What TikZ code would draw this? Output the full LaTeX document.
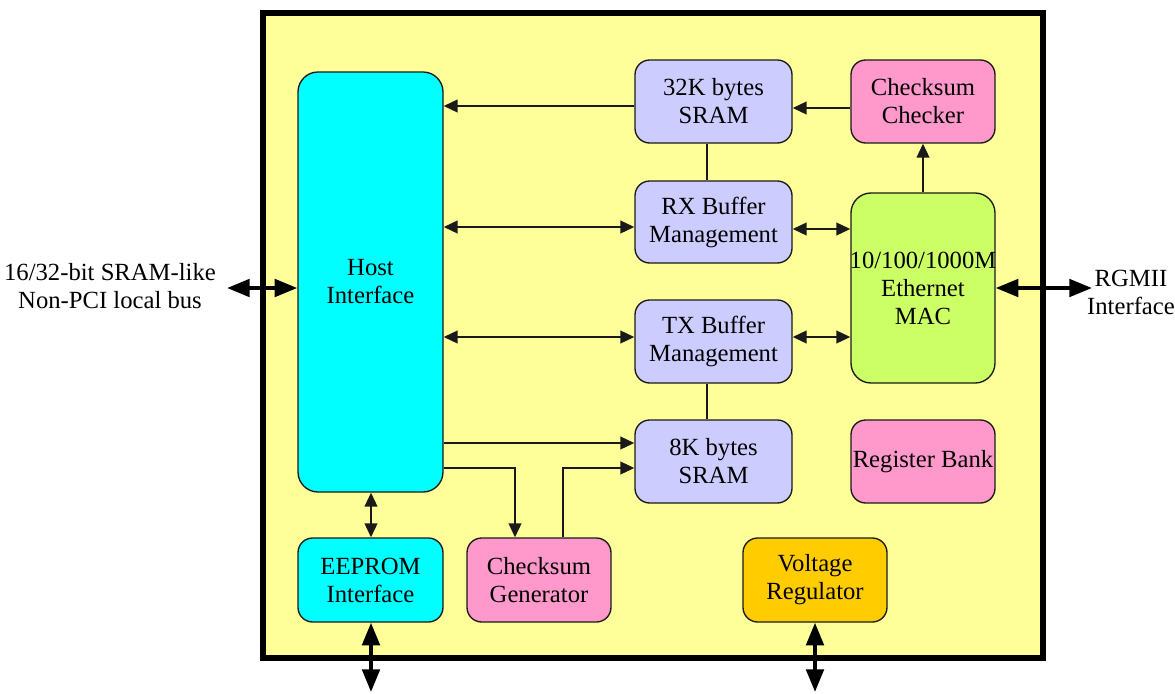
\documentclass[tikz,border=0pt]{standalone}
\usepackage{fontspec}
\setmainfont{Liberation Serif}
\usetikzlibrary{arrows.meta}
\definecolor{bg}{HTML}{FFFF99}
\definecolor{cyanbox}{HTML}{00FFFF}
\definecolor{lav}{HTML}{CCCCFF}
\definecolor{pinkbox}{HTML}{FF99CC}
\definecolor{greenbox}{HTML}{CCFF66}
\definecolor{orangebox}{HTML}{FFCC00}
\definecolor{edge}{HTML}{1A1A1A}
\begin{document}
\begin{tikzpicture}[x=0.75pt,y=-0.75pt,
  blk/.style={draw=edge, line width=1pt, rounded corners=11pt, align=center,
    font=\fontsize{18.5}{21}\selectfont, inner sep=0pt},
  thinln/.style={line width=1.5pt, draw=edge},
  >={Triangle[length=10.5pt,width=9.5pt]},
  bus/.style={line width=3pt, draw=black,
    {Triangle[length=17pt,width=13pt]}-{Triangle[length=17pt,width=13pt]}},
  lbl/.style={align=center, font=\fontsize{18.5}{21}\selectfont, inner sep=0pt}
]
\useasboundingbox (0,0) rectangle (1175,693);
% chip frame
\draw[line width=4.5pt, fill=bg] (263,12.5) rectangle (1043,658);

% blocks
\node[blk, fill=cyanbox, rounded corners=15pt, minimum width=108.75pt, minimum height=315pt] (host) at (370.5,282) {Host\\Interface};
\node[blk, fill=lav, minimum width=117.75pt, minimum height=62.25pt] (sram32) at (713.5,101.5) {32K bytes\\SRAM};
\node[blk, fill=pinkbox, minimum width=108pt, minimum height=62.25pt] (checker) at (923,101.5) {Checksum\\Checker};
\node[blk, fill=lav, minimum width=117.75pt, minimum height=61.5pt] (rx) at (713.5,222) {RX Buffer\\Management};
\node[blk, fill=greenbox, rounded corners=15pt, text width=108pt, minimum width=108pt, minimum height=142.5pt] (mac) at (923,288) {\hbox to 108pt{\hss 10/100/1000M\hss}\\Ethernet\\MAC};
\node[blk, fill=lav, minimum width=117.75pt, minimum height=62.25pt] (tx) at (713.5,341.5) {TX Buffer\\Management};
\node[blk, fill=lav, minimum width=117.75pt, minimum height=62.25pt] (sram8) at (713.5,461.5) {8K bytes\\SRAM};
\node[blk, fill=pinkbox, minimum width=108pt, minimum height=62.25pt] (reg) at (923,461.5) {Register Bank};
\node[blk, fill=cyanbox, minimum width=108.75pt, minimum height=63pt] (eeprom) at (370.5,580) {EEPROM\\Interface};
\node[blk, fill=pinkbox, minimum width=108pt, minimum height=63pt] (gen) at (539,580) {Checksum\\Generator};
\node[blk, fill=orangebox, minimum width=108pt, minimum height=63pt] (volt) at (815,580) {Voltage\\Regulator};

% outside labels
\node[lbl] (buslbl) at (110,286) {16/32-bit SRAM-like\\Non-PCI local bus};
\node[lbl] (rgmii) at (1131,292) {RGMII\\Interface};

% internal connectors
\draw[thinln,->] (sram32.west |- 0,106) -- (host.east |- 0,106);
\draw[thinln,->] (checker.west |- 0,108) -- (sram32.east |- 0,108);
\draw[thinln] (sram32.south -| 707,0) -- (rx.north -| 707,0);
\draw[thinln,<->] (host.east |- 0,227) -- (rx.west |- 0,227);
\draw[thinln,<->] (rx.east |- 0,229) -- (mac.west |- 0,229);
\draw[thinln,->] (mac.north) -- (checker.south);
\draw[thinln,<->] (host.east |- 0,337) -- (tx.west |- 0,337);
\draw[thinln,<->] (tx.east |- 0,337) -- (mac.west |- 0,337);
\draw[thinln] (tx.south -| 707,0) -- (sram8.north -| 707,0);
\draw[thinln,->] (host.east |- 0,443) -- (sram8.west |- 0,443);
\draw[thinln,->] (host.east |- 0,468) -| (gen.north -| 515,0);
\draw[thinln,->] (gen.north -| 563,0) |- (sram8.west |- 0,468);
\draw[thinln,<->] (host.south -| 371,0) -- (eeprom.north -| 371,0);

% external buses
\coordinate (busL) at (227,288);
\draw[bus] (busL) -- (host.west |- busL);
\coordinate (busR) at (1092,288);
\draw[bus] (mac.east |- busR) -- (busR);
\coordinate (eeD) at (371,692);
\draw[bus] (eeprom.south -| eeD) -- (eeD);
\coordinate (vrD) at (815,692);
\draw[bus] (volt.south) -- (vrD);
\end{tikzpicture}
\end{document}
